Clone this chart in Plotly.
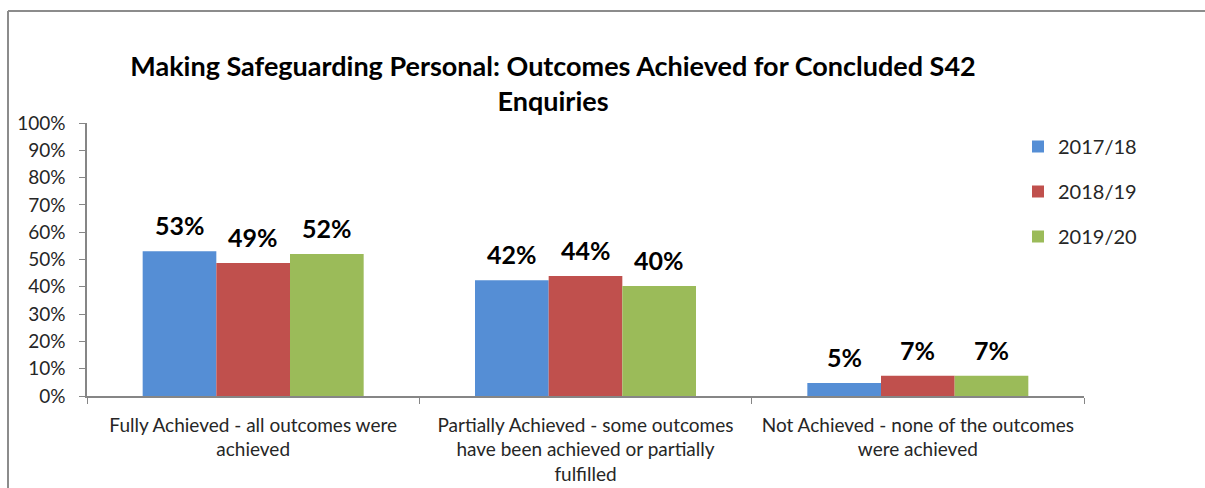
import plotly.graph_objects as go

categories = [
    "Fully Achieved - all outcomes were<br>achieved",
    "Partially Achieved - some outcomes<br>have been achieved or partially<br>fulfilled",
    "Not Achieved - none of the outcomes<br>were achieved",
]
series_names = ["2017/18", "2018/19", "2019/20"]
values_2017 = [0.53, 0.424, 0.048]
values_2018 = [0.487, 0.44, 0.074]
values_2019 = [0.52, 0.403, 0.074]
colors = ["#558ED5", "#C0504D", "#9BBB59"]

W, H = 1205, 488
ml, mr, mt, mb = 87, 121, 123, 92
FONT = "Lato, Calibri, Carlito, sans-serif"

fig = go.Figure()
all_vals = [values_2017, values_2018, values_2019]
for i, (name, vals) in enumerate(zip(series_names, all_vals)):
    fig.add_trace(go.Bar(
        x=categories, y=vals, name=name,
        marker=dict(color=colors[i], line=dict(width=0)),
        legendgroup=name,
        hoverinfo="skip",
    ))

# data labels above bars
plot_w = W - ml - mr
plot_h = H - mt - mb
cat_w = plot_w / len(categories)
bargap = 0.335
bar_w = cat_w * (1 - bargap) / 3
for i, vals in enumerate(all_vals):
    for c, v in zip(categories, vals):
        fig.add_annotation(
            x=c, y=v, xref="x", yref="y",
            text="<b>%d%%</b>" % round(v * 100),
            showarrow=False, yanchor="bottom",
            xshift=(i - 1) * bar_w, yshift=9,
            font=dict(family=FONT, size=25, color="#000000"),
        )

# chart frame: only top and left edges are visible in the reference
fx0 = (8 - ml) / plot_w
fx1 = (W - ml) / plot_w
fy_top = 1 + (mt - 11) / plot_h
fy_bot = -mb / plot_h
frame = dict(color="#8C8C8C", width=2)
fig.add_shape(type="line", xref="paper", yref="paper",
              x0=fx0, x1=fx1, y0=fy_top, y1=fy_top, line=frame, layer="below")
fig.add_shape(type="line", xref="paper", yref="paper",
              x0=fx0, x1=fx0, y0=fy_top, y1=fy_bot, line=frame, layer="below")

fig.update_layout(
    width=W, height=H,
    margin=dict(l=ml, r=mr, t=mt, b=mb, autoexpand=False),
    paper_bgcolor="white", plot_bgcolor="white",
    barmode="group", bargap=bargap, bargroupgap=0,
    font=dict(family=FONT, size=19, color="#262626"),
    title=dict(
        text="<b>Making Safeguarding Personal: Outcomes Achieved for Concluded S42<br>Enquiries</b>",
        x=553 / W, xanchor="center", y=1 - 76 / H, yanchor="top",
        font=dict(family=FONT, size=27, color="#000000"),
    ),
    legend=dict(
        x=1 + (1018 - (W - mr)) / plot_w, xanchor="left",
        y=1 - (127 - mt) / plot_h, yanchor="top",
        font=dict(family=FONT, size=20, color="#262626"),
        tracegroupgap=16, itemwidth=30,
        bgcolor="rgba(0,0,0,0)",
    ),
    showlegend=True,
)
fig.update_yaxes(
    range=[0, 1], dtick=0.1, tickformat=".0%",
    showgrid=False, zeroline=False,
    showline=True, linecolor="#868686", linewidth=1.5,
    ticks="outside", ticklen=6, tickcolor="#868686",
    tickfont=dict(family=FONT, size=19, color="#262626"),
    ticklabelstandoff=10, automargin=False,
    fixedrange=True,
)
fig.update_xaxes(
    showgrid=False, showline=True, linecolor="#868686", linewidth=1.5,
    ticks="outside", ticklen=6, tickcolor="#868686", tickson="boundaries",
    tickfont=dict(family=FONT, size=19, color="#262626"),
    ticklabelstandoff=11, automargin=False,
    fixedrange=True,
)

fig.write_html(
    "out.html",
    config={"displayModeBar": False},
    post_script=(
        "document.documentElement.style.overflow='hidden';"
        "document.body.style.margin='0';document.body.style.overflow='hidden';"
    ),
)
